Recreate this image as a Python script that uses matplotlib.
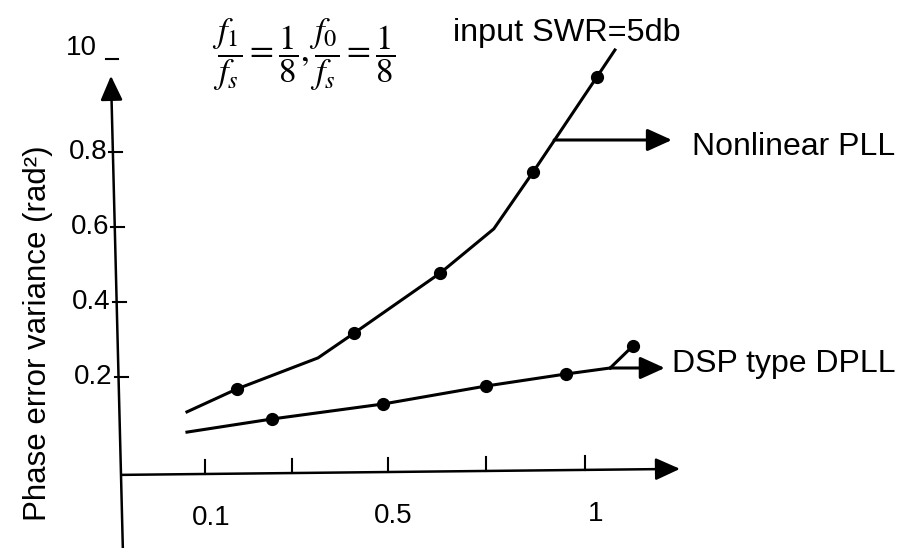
import numpy as np
import matplotlib
matplotlib.use('Agg')
import matplotlib.pyplot as plt

plt.rcParams['font.family'] = ['Liberation Sans', 'DejaVu Sans']
plt.rcParams['mathtext.fontset'] = 'stix'

# ---- data ----
# Nonlinear PLL polyline (vertices) and which vertices carry a dot
nonlinear_x = [0.062, 0.167, 0.338, 0.414, 0.595, 0.708, 0.791, 0.925, 0.963]
nonlinear_y = [0.107, 0.168, 0.251, 0.317, 0.477, 0.595, 0.747, 1.000, 1.072]
nonlinear_dots = [1, 3, 4, 6, 7]

# DSP type DPLL polyline
dpll_x = [0.062, 0.241, 0.475, 0.692, 0.860, 0.953]
dpll_y = [0.053, 0.088, 0.128, 0.176, 0.208, 0.224]
dpll_dots = [1, 2, 3, 4]
# stray point hanging off the end of the DPLL line
dpll_extra_x = [0.953, 1.001]
dpll_extra_y = [0.224, 0.283]

y_ticks = [0.2, 0.4, 0.6, 0.8]
y_tick_labels = ['0.2', '0.4', '0.6', '0.8']
x_ticks = [0.1, 0.283, 0.485, 0.691, 0.9]
x_label_pos = [0.113, 0.496, 0.923]
x_tick_labels = ['0.1', '0.5', '1']

ylabel = 'Phase error variance (rad²)'
formula = r'$\dfrac{f_1}{f_s}=\dfrac{1}{8},\dfrac{f_0}{f_s}=\dfrac{1}{8}$'

# ---- figure ----
fig = plt.figure(figsize=(9.03, 5.48), dpi=100)
ax = fig.add_axes([0, 0, 1, 1])
ax.set_xlim(-0.3316, 1.5695)
ax.set_ylim(-0.256, 1.2053)
ax.axis('off')

lw = 2.2
arrow = dict(arrowstyle='-|>,head_length=0.75,head_width=0.34', mutation_scale=20,
             color='k', lw=lw, shrinkA=0, shrinkB=0)

# hand drawn axes (slightly skewed in the scan)
yax_bot, yax_top = (-0.073, -0.256), (-0.098, 1.003)
xax_left, xax_tip = (-0.075, -0.061), (1.1, -0.045)
ax.annotate('', xy=yax_top, xytext=yax_bot, arrowprops=dict(arrow, lw=1.8))
ax.annotate('', xy=xax_tip, xytext=xax_left, arrowprops=dict(arrow, lw=1.8))

def yaxis_x(y):
    return yax_bot[0] + (y - yax_bot[1]) / (yax_top[1] - yax_bot[1]) * (yax_top[0] - yax_bot[0])

def xaxis_y(x):
    return xax_left[1] + (x - xax_left[0]) / (xax_tip[0] - xax_left[0]) * (xax_tip[1] - xax_left[1])

for y, lab in zip(y_ticks, y_tick_labels):
    x0 = yaxis_x(y)
    ax.plot([x0 - 0.008, x0 + 0.02], [y, y], color='k', lw=1.5)
    ax.text(x0 - 0.012, y, lab, ha='right', va='center', fontsize=20)

# the "10 _" label at the top of the y axis
ax.text(-0.161, 1.077, '10', ha='center', va='center', fontsize=20)
ax.plot([-0.108, -0.083], [1.048, 1.048], color='k', lw=1.5)

for x in x_ticks:
    y0 = xaxis_y(x)
    ax.plot([x, x], [y0, y0 + 0.037], color='k', lw=1.5)
for x, lab in zip(x_label_pos, x_tick_labels):
    ax.text(x, xaxis_y(x) - 0.118, lab, ha='center', va='center', fontsize=20)

ax.text(-0.252, 0.317, ylabel, rotation=90, ha='center', va='center', fontsize=22.5)

# curves
ax.plot(nonlinear_x, nonlinear_y, color='k', lw=lw, marker='o', markersize=8.5,
        markevery=nonlinear_dots)
ax.plot(dpll_x, dpll_y, color='k', lw=lw, marker='o', markersize=8.5,
        markevery=dpll_dots)
ax.plot(dpll_extra_x, dpll_extra_y, color='k', lw=lw, marker='o', markersize=8.5,
        markevery=[1])

# callouts
ax.annotate('', xy=(1.083, 0.832), xytext=(0.835, 0.832), arrowprops=arrow)
ax.text(1.125, 0.813, 'Nonlinear PLL', ha='left', va='center', fontsize=23)
ax.annotate('', xy=(1.068, 0.224), xytext=(0.953, 0.224), arrowprops=arrow)
ax.text(1.083, 0.235, 'DSP type DPLL', ha='left', va='center', fontsize=23)
ax.text(0.622, 1.117, 'input SWR=5db', ha='left', va='center', fontsize=23.3)
ax.text(0.308, 1.059, formula, ha='center', va='center', fontsize=25)

fig.savefig('out.png', dpi=100)
